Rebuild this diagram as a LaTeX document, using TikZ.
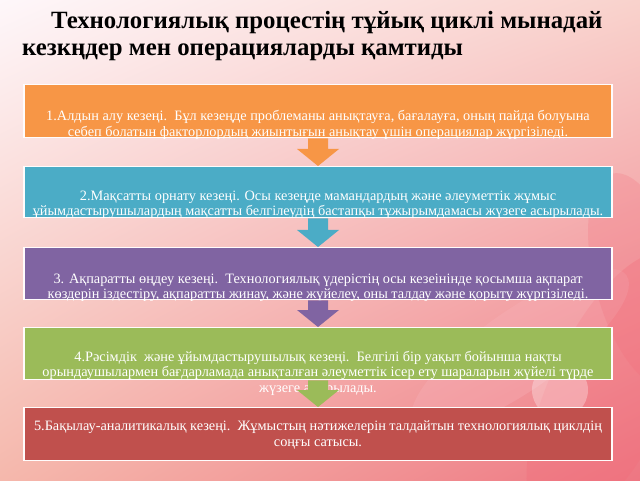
\documentclass[tikz,border=0pt]{standalone}
\usepackage{fontspec}
\setmainfont{Liberation Serif}
\usetikzlibrary{calc,shadings}
\definecolor{cOrange}{HTML}{F79646}
\definecolor{cTeal}{HTML}{4BACC6}
\definecolor{cPurple}{HTML}{8064A2}
\definecolor{cGreen}{HTML}{9BBB59}
\definecolor{cRed}{HTML}{C0504D}
\definecolor{bgTL}{HTML}{FEF7FA}
\definecolor{bgTR}{HTML}{F9D2CC}
\definecolor{bgBL}{HTML}{F5B8AC}
\definecolor{bgBR}{HTML}{EE7682}
\definecolor{petal}{HTML}{F26A78}
\definecolor{petalLight}{HTML}{F8B4BC}
\tikzset{
  stagebox/.style={draw=white!96!pink, line width=1.3pt, minimum width=588pt, minimum height=#1, inner sep=0pt, anchor=north},
  stagetext/.style={text=white, font=\fontsize{14.3}{15.5}\selectfont, align=center, inner sep=0pt},
  titletext/.style={font=\bfseries\fontsize{24.8}{29}\selectfont, anchor=base west, inner sep=0pt}
}
\begin{document}
\begin{tikzpicture}[x=1pt,y=1pt]
\useasboundingbox (0,0) rectangle (640,480);
\shade[upper left=bgTL, upper right=bgTR, lower left=bgBL, lower right=bgBR] (0,0) rectangle (640,480);
% soft flower petals in the lower right
\fill[petal, opacity=0.30] (610,90) ellipse [x radius=60, y radius=150, rotate=-25];
\fill[petalLight, opacity=0.30] (520,130) ellipse [x radius=40, y radius=130, rotate=-55];
\fill[petal, opacity=0.22] (640,200) ellipse [x radius=45, y radius=110, rotate=15];
\fill[white, opacity=0.30] (560,90) circle (28);

\node[titletext] (title1) at (51,451) {Технологиялық процестің тұйық циклі мынадай};
\node[titletext] (title2) at (22,424) {кезкңдер мен операцияларды қамтиды};

\node[stagebox=53pt, fill=cOrange] (b1) at (318,396) {};
\node[stagebox=51pt, fill=cTeal]   (b2) at (318,314) {};
\node[stagebox=52pt, fill=cPurple] (b3) at (318,233) {};
\node[stagebox=52pt, fill=cGreen]  (b4) at (318,153) {};
\node[stagebox=53pt, fill=cRed]    (b5) at (318,73) {};

\begin{scope}
\clip (b1.south west) rectangle (b1.north east);
\node[stagetext] (t1) at (318,355) {1.Алдын алу кезеңі.\ \ Бұл кезеңде проблеманы анықтауға, бағалауға, оның пайда болуына\\себеп болатын факторлордың жиынтығын анықтау үшін операциялар жүргізіледі.};
\end{scope}
\begin{scope}
\clip (b2.south west) rectangle (b2.north east);
\node[stagetext] (t2) at (318,275) {2.Мақсатты орнату кезеңі. Осы кезеңде мамандардың және әлеуметтік жұмыс\\ұйымдастырушылардың мақсатты белгілеудің бастапқы тұжырымдамасы жүзеге асырылады.};
\end{scope}
\begin{scope}
\clip (b3.south west) rectangle (b3.north east);
\node[stagetext] (t3) at (318,192) {3. Ақпаратты өңдеу кезеңі.\ \ Технологиялық үдерістің осы кезеінінде қосымша ақпарат\\көздерін іздестіру, ақпаратты жинау, және жүйелеу, оны талдау және қорыту жүргізіледі.};
\end{scope}
\node[stagetext] (t4) at (318,107) {4.Рәсімдік\ \ және ұйымдастырушылық кезеңі.\ \ Белгілі бір уақыт бойынша нақты\\орындаушылармен бағдарламада анықталған әлеуметтік ісер ету шараларын жүйелі түрде\\жүзеге асырылады.};
\node[stagetext] (t5) at (318,45) {5.Бақылау-аналитикалық кезеңі.\ \ Жұмыстың нәтижелерін талдайтын технологиялық циклдің\\соңғы сатысы.};

\foreach \up/\dn/\col in {b1/b2/cOrange, b2/b3/cTeal, b3/b4/cPurple, b4/b5/cGreen}{
  \fill[\col] ($(\up.south)+(-10,0)$) -- ($(\up.south)+(10,0)$) -- ($(\dn.north)+(10,17)$) -- ($(\dn.north)+(21,17)$) -- (\dn.north) -- ($(\dn.north)+(-21,17)$) -- ($(\dn.north)+(-10,17)$) -- cycle;
}
\end{tikzpicture}
\end{document}
